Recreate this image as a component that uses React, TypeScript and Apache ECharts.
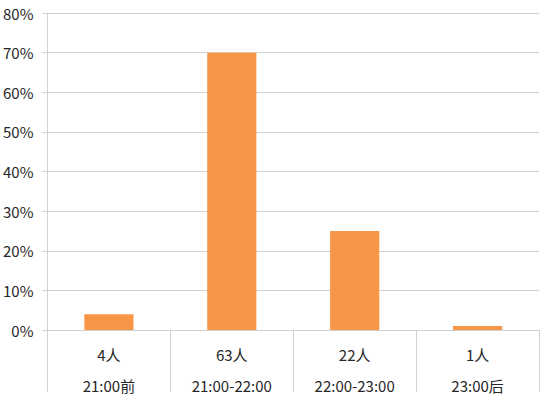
import React, { useEffect, useRef } from "react";
import * as echarts from "echarts";

const counts = ["4人", "63人", "22人", "1人"];
const periods = ["21:00前", "21:00-22:00", "22:00-23:00", "23:00后"];
const percents = [4, 70, 25, 1];
const yTicks = { min: 0, max: 80, interval: 10 };

export default function App() {
  const ref = useRef<HTMLDivElement>(null);
  useEffect(() => {
    if (!ref.current) return;
    const chart = echarts.init(ref.current, null, { renderer: "svg" });
    const categories = counts.map((c, i) => c + "\n" + periods[i]);
    const font = "'Noto Sans CJK SC', 'Noto Sans', sans-serif";
    chart.setOption({
      animation: false,
      backgroundColor: "#ffffff",
      grid: { left: 47, right: 11, top: 13, bottom: 68, containLabel: false },
      xAxis: {
        type: "category",
        data: categories,
        boundaryGap: true,
        axisLine: { show: true, lineStyle: { color: "#d0d0d0", width: 1 } },
        axisTick: {
          show: true,
          length: 62,
          interval: 0,
          alignWithLabel: false,
          lineStyle: { color: "#d0d0d0", width: 1 },
        },
        axisLabel: {
          interval: 0,
          margin: 9,
          color: "#262626",
          fontSize: 15,
          lineHeight: 31,
          fontFamily: font,
        },
      },
      yAxis: {
        type: "value",
        min: yTicks.min,
        max: yTicks.max,
        interval: yTicks.interval,
        axisLine: { show: true, lineStyle: { color: "#d0d0d0", width: 1 } },
        axisTick: { show: true, length: 5, lineStyle: { color: "#d0d0d0" } },
        splitLine: { show: true, lineStyle: { color: "#d0d0d0", width: 1 } },
        axisLabel: {
          formatter: "{value}%",
          margin: 14,
          color: "#262626",
          fontSize: 15,
          fontFamily: font,
        },
      },
      series: [
        {
          type: "bar",
          data: percents,
          barWidth: "40%",
          itemStyle: { color: "#F79646" },
        },
      ],
    });
    return () => chart.dispose();
  }, []);
  return (
    <div
      ref={ref}
      style={{ position: "fixed", left: 0, top: 0, width: 550, height: 401, background: "#fff" }}
    />
  );
}
